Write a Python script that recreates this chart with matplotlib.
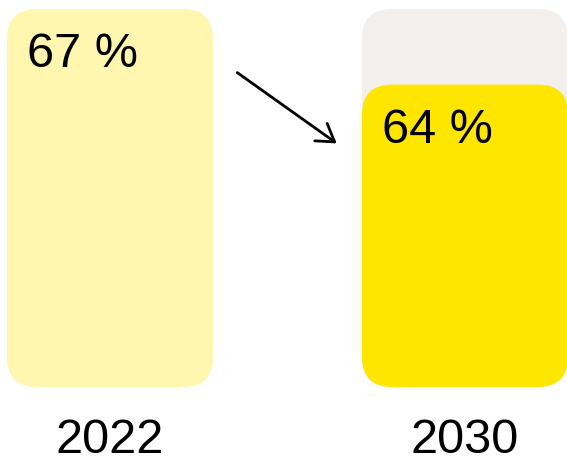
import matplotlib
matplotlib.use("Agg")
import matplotlib.pyplot as plt
from matplotlib.patches import FancyBboxPatch, FancyArrowPatch

# data
years = ["2022", "2030"]
values = [67, 64]
track = [None, 67]          # grey "previous level" track behind the 2030 bar
baseline = 52               # truncated axis start

FILL = ["#FFF7B0", "#FFE600"]
TRACK = "#F2EFEC"
FONT = ["Liberation Sans", "DejaVu Sans"]

fig = plt.figure(figsize=(5.67, 4.65), dpi=100)
ax = fig.add_axes([0, 78 / 465, 1, 387 / 465])
ax.set_xlim(-110 / 355, 1 + 102 / 355)
ax.set_ylim(baseline, 67.357)
width = 206 / 355

# unit conversion for round corners (px per data unit)
px_x = 355
px_y = 387 / (67.357 - baseline)
aspect = px_x / px_y
rad = 30 / px_x


def rounded(x0, y0, w, h, color, z):
    ax.add_patch(FancyBboxPatch((x0, y0), w, h,
                                boxstyle=f"round,pad=0,rounding_size={rad}",
                                mutation_aspect=aspect, facecolor=color,
                                edgecolor="none", zorder=z, clip_on=False))


# grey tracks first
for i, t in enumerate(track):
    if t is not None:
        rounded(i - width / 2, baseline, width, t - baseline, TRACK, 1)

bars = ax.bar(range(len(values)), [v - baseline for v in values],
              bottom=baseline, width=width, color="none")
for i, (b, v) in enumerate(zip(bars, values)):
    b.set_visible(False)
    rounded(b.get_x(), baseline, b.get_width(), v - baseline, FILL[i], 2)
    ax.annotate(f"{v} %", xy=(b.get_x(), v), xytext=(20, -23),
                textcoords="offset pixels", ha="left", va="top",
                fontsize=35, family=FONT, color="black", zorder=3)

ax.set_xticks(range(len(years)), years, family=FONT, fontsize=35)
ax.tick_params(axis="x", length=0, pad=22)
ax.set_yticks([])
for s in ax.spines.values():
    s.set_visible(False)
ax.patch.set_visible(False)

# trend arrow between the two bars
fig.add_artist(FancyArrowPatch(
    (235 / 567, 1 - 71 / 465), (339 / 567, 1 - 145 / 465),
    transform=fig.transFigure, arrowstyle="->,head_length=0.55,head_width=0.35",
    mutation_scale=22, lw=2, color="black"))

fig.savefig("out.png", dpi=100, facecolor="white")
